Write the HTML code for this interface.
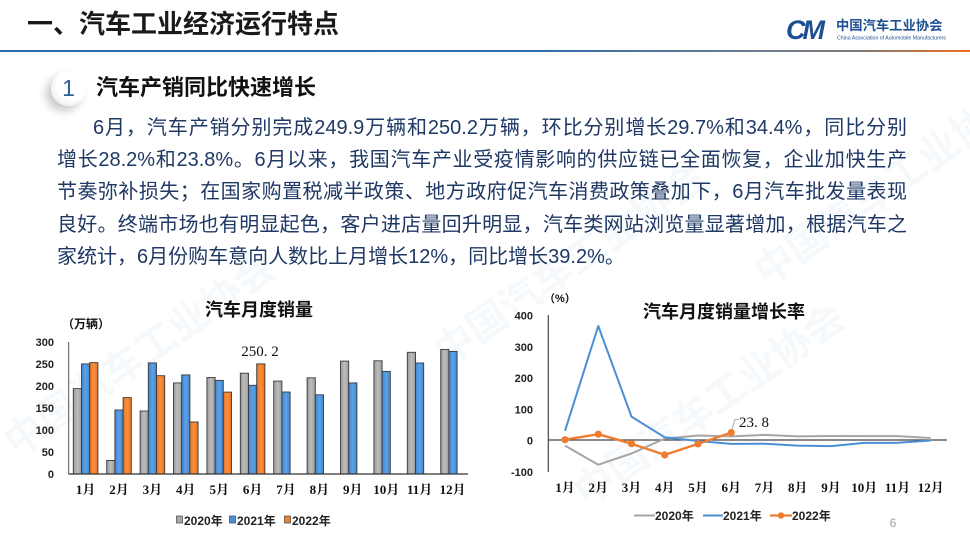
<!DOCTYPE html>
<html><head><meta charset="utf-8">
<style>
html,body{margin:0;padding:0;background:#fff;}
body{width:970px;height:546px;position:relative;overflow:hidden;font-family:"Liberation Sans","Noto Sans CJK SC",sans-serif;}
.abs{position:absolute;white-space:nowrap;}
.title{left:27px;top:8px;font-size:26px;font-weight:bold;color:#1a1a1a;line-height:32px;}
.hline{left:0;top:50px;width:970px;height:2px;background:linear-gradient(to right,#2c6aae 0%,#2f6cad 55%,#6d7c8e 78%,#7a7a7a 88%,#f07020 100%);}
.logo-cm{left:786px;top:14px;font-size:27px;font-weight:bold;font-style:italic;color:#1d4f91;letter-spacing:-3px;line-height:32px;}
.logo-cn{left:836px;top:17px;font-size:13.3px;font-weight:bold;color:#1d4f91;line-height:18px;}
.logo-en{left:837px;top:36px;font-size:10px;color:#1d4f91;transform:scale(0.52);transform-origin:0 0;line-height:10px;}
.circ{left:51px;top:71px;width:35px;height:35px;border-radius:50%;background:radial-gradient(circle at 62% 38%,#ffffff 50%,#ececec 80%,#d8d8d8 100%);box-shadow:-5px 5px 9px rgba(0,0,0,0.22);}
.circ span{position:absolute;left:0;top:0;width:35px;text-align:center;line-height:35px;font-size:23px;color:#2f5f95;}
.sub{left:96px;top:74px;font-size:22px;font-weight:bold;color:#111;line-height:28px;}
.p{font-size:20px;color:#1f3864;line-height:32px;text-align:justify;text-align-last:justify;}
.wm{position:absolute;white-space:nowrap;color:rgba(170,195,225,0.10);font-weight:bold;font-size:40px;transform:rotate(-35deg);transform-origin:0 0;}
</style></head>
<body>
<div class="wm" style="left:420px;top:330px;">中国汽车工业协会</div>
<div class="wm" style="left:560px;top:470px;">中国汽车工业协会</div>
<div class="wm" style="left:-10px;top:420px;">中国汽车工业协会</div>
<div class="wm" style="left:740px;top:250px;">中国汽车工业协会</div>

<div class="abs title">一、汽车工业经济运行特点</div>
<div class="abs hline"></div>
<div class="abs logo-cm">CM</div>
<div class="abs logo-cn">中国汽车工业协会</div>
<div class="abs logo-en">China Association of Automobile Manufacturers</div>

<div class="abs circ"><span>1</span></div>
<div class="abs sub">汽车产销同比快速增长</div>

<div class="abs p" style="left:93px;top:112px;width:814px;">6月，汽车产销分别完成249.9万辆和250.2万辆，环比分别增长29.7%和34.4%，同比分别</div>
<div class="abs p" style="left:57px;top:144px;width:850px;">增长28.2%和23.8%。6月以来，我国汽车产业受疫情影响的供应链已全面恢复，企业加快生产</div>
<div class="abs p" style="left:57px;top:176px;width:850px;">节奏弥补损失；在国家购置税减半政策、地方政府促汽车消费政策叠加下，6月汽车批发量表现</div>
<div class="abs p" style="left:57px;top:209px;width:850px;">良好。终端市场也有明显起色，客户进店量回升明显，汽车类网站浏览量显著增加，根据汽车之</div>
<div class="abs p" style="left:57px;top:241px;text-align:left;text-align-last:left;">家统计，6月份购车意向人数比上月增长12%，同比增长39.2%。</div>

<svg class="abs" style="left:0;top:0;" width="970" height="546" viewBox="0 0 970 546" xmlns="http://www.w3.org/2000/svg">
<defs>
<linearGradient id="gg" x1="0" x2="1" y1="0" y2="0"><stop offset="0" stop-color="#9a9a9a"/><stop offset="0.5" stop-color="#bdbdbd"/><stop offset="1" stop-color="#9c9c9c"/></linearGradient>
<linearGradient id="gb" x1="0" x2="1" y1="0" y2="0"><stop offset="0" stop-color="#3f86d2"/><stop offset="0.5" stop-color="#5da2e6"/><stop offset="1" stop-color="#3f86d2"/></linearGradient>
<linearGradient id="go" x1="0" x2="1" y1="0" y2="0"><stop offset="0" stop-color="#ea7424"/><stop offset="0.5" stop-color="#f98f3c"/><stop offset="1" stop-color="#e87220"/></linearGradient>
</defs>

<!-- LEFT CHART -->
<text x="259" y="316" text-anchor="middle" font-family="Liberation Sans,Noto Sans CJK SC,sans-serif" font-weight="bold" font-size="18" fill="#111">汽车月度销量</text>
<text x="62" y="328" font-family="Liberation Sans,Noto Sans CJK SC,sans-serif" font-weight="bold" font-size="12" fill="#111">（万辆）</text>
<g font-family="Liberation Sans,sans-serif" font-weight="bold" font-size="11" fill="#222" text-anchor="end">
<text x="54" y="346">300</text><text x="54" y="368">250</text><text x="54" y="390">200</text><text x="54" y="412">150</text><text x="54" y="434">100</text><text x="54" y="456">50</text><text x="54" y="478">0</text>
</g>
<g stroke="#3a3a3a" stroke-width="0.9">
<rect x="73.3" y="388.6" width="8.2" height="85.4" fill="url(#gg)"/>
<rect x="106.7" y="460.4" width="8.2" height="13.6" fill="url(#gg)"/>
<rect x="140.1" y="411.0" width="8.2" height="63.0" fill="url(#gg)"/>
<rect x="173.5" y="382.9" width="8.2" height="91.1" fill="url(#gg)"/>
<rect x="206.9" y="377.5" width="8.2" height="96.5" fill="url(#gg)"/>
<rect x="240.3" y="373.2" width="8.2" height="100.8" fill="url(#gg)"/>
<rect x="273.7" y="381.1" width="8.2" height="92.9" fill="url(#gg)"/>
<rect x="307.1" y="377.8" width="8.2" height="96.2" fill="url(#gg)"/>
<rect x="340.5" y="361.1" width="8.2" height="112.9" fill="url(#gg)"/>
<rect x="373.9" y="360.8" width="8.2" height="113.2" fill="url(#gg)"/>
<rect x="407.3" y="352.3" width="8.2" height="121.7" fill="url(#gg)"/>
<rect x="440.7" y="349.4" width="8.2" height="124.6" fill="url(#gg)"/>

<rect x="81.5" y="363.9" width="8.2" height="110.1" fill="url(#gb)"/>
<rect x="114.9" y="410.0" width="8.2" height="64.0" fill="url(#gb)"/>
<rect x="148.3" y="362.9" width="8.2" height="111.1" fill="url(#gb)"/>
<rect x="181.7" y="374.9" width="8.2" height="99.1" fill="url(#gb)"/>
<rect x="215.1" y="380.4" width="8.2" height="93.6" fill="url(#gb)"/>
<rect x="248.5" y="385.3" width="8.2" height="88.7" fill="url(#gb)"/>
<rect x="281.9" y="392.0" width="8.2" height="82.0" fill="url(#gb)"/>
<rect x="315.3" y="394.8" width="8.2" height="79.2" fill="url(#gb)"/>
<rect x="348.7" y="382.9" width="8.2" height="91.1" fill="url(#gb)"/>
<rect x="382.1" y="371.4" width="8.2" height="102.6" fill="url(#gb)"/>
<rect x="415.5" y="363.0" width="8.2" height="111.0" fill="url(#gb)"/>
<rect x="448.9" y="351.4" width="8.2" height="122.6" fill="url(#gb)"/>

<rect x="89.7" y="362.6" width="8.2" height="111.4" fill="url(#go)"/>
<rect x="123.1" y="397.6" width="8.2" height="76.4" fill="url(#go)"/>
<rect x="156.5" y="375.7" width="8.2" height="98.3" fill="url(#go)"/>
<rect x="189.9" y="422.0" width="8.2" height="52.0" fill="url(#go)"/>
<rect x="223.3" y="392.1" width="8.2" height="81.9" fill="url(#go)"/>
<rect x="256.7" y="363.9" width="8.2" height="110.1" fill="url(#go)"/>
</g>
<line x1="68.7" y1="342" x2="68.7" y2="474.5" stroke="#555" stroke-width="1"/>
<line x1="68.7" y1="474" x2="468" y2="474" stroke="#333" stroke-width="1.2"/>
<text x="260" y="356" text-anchor="middle" font-family="Liberation Serif,serif" font-size="15" fill="#111">250. 2</text>
<g font-family="Liberation Serif,Noto Serif CJK SC,serif" font-weight="bold" font-size="13" fill="#111" text-anchor="middle">
<text x="85.6" y="494">1月</text><text x="119" y="494">2月</text><text x="152.4" y="494">3月</text><text x="185.8" y="494">4月</text><text x="219.2" y="494">5月</text><text x="252.6" y="494">6月</text><text x="286" y="494">7月</text><text x="319.4" y="494">8月</text><text x="352.8" y="494">9月</text><text x="386.2" y="494">10月</text><text x="419.6" y="494">11月</text><text x="452.6" y="494">12月</text>
</g>
<g font-family="Liberation Sans,Noto Sans CJK SC,sans-serif" font-weight="bold" font-size="12" fill="#222">
<rect x="176.5" y="516" width="6" height="7" fill="#a8a8a8" stroke="#444" stroke-width="0.7"/><text x="184" y="525">2020年</text>
<rect x="229.5" y="516" width="6" height="7" fill="#4a90d9" stroke="#444" stroke-width="0.7"/><text x="237" y="525">2021年</text>
<rect x="284.5" y="516" width="6" height="7" fill="#f07f2c" stroke="#444" stroke-width="0.7"/><text x="292" y="525">2022年</text>
</g>

<!-- RIGHT CHART -->
<text x="724" y="318" text-anchor="middle" font-family="Liberation Sans,Noto Sans CJK SC,sans-serif" font-weight="bold" font-size="18" fill="#111">汽车月度销量增长率</text>
<text x="544" y="302" font-family="Liberation Sans,Noto Sans CJK SC,sans-serif" font-weight="bold" font-size="11" fill="#111">（%）</text>
<g font-family="Liberation Sans,sans-serif" font-weight="bold" font-size="11" fill="#222" text-anchor="end">
<text x="533" y="319.5">400</text><text x="533" y="350.8">300</text><text x="533" y="382">200</text><text x="533" y="413.3">100</text><text x="533" y="444.5">0</text><text x="533" y="475.8">-100</text>
</g>
<line x1="548.3" y1="315" x2="548.3" y2="472" stroke="#444" stroke-width="1.2"/>
<line x1="548.3" y1="440" x2="947" y2="440" stroke="#444" stroke-width="1.2"/>
<polyline fill="none" stroke="#a6a6a6" stroke-width="2" stroke-linejoin="round" points="565,445.6 598.25,464.7 631.5,453.5 664.75,438.6 698,435.5 731.25,436.4 764.5,434.9 797.75,436.4 831,436 864.25,436.1 897.5,436.1 930.75,438"/>
<polyline fill="none" stroke="#4a8fd6" stroke-width="2" stroke-linejoin="round" points="565,430.8 598.25,326 631.5,416.6 664.75,437.3 698,441 731.25,443.9 764.5,443.7 797.75,445.6 831,446.1 864.25,442.9 897.5,442.8 930.75,440.5"/>
<polyline fill="none" stroke="#ee7d31" stroke-width="2.4" stroke-linejoin="round" points="565,439.7 598.25,434.2 631.5,443.7 664.75,454.9 698,443.9 731.25,432.6"/>
<g fill="#ee7d31">
<circle cx="565" cy="439.7" r="3.6"/><circle cx="598.25" cy="434.2" r="3.6"/><circle cx="631.5" cy="443.7" r="3.6"/><circle cx="664.75" cy="454.9" r="3.6"/><circle cx="698" cy="443.9" r="3.6"/><circle cx="731.25" cy="432.6" r="3.6"/>
</g>
<polyline fill="none" stroke="#a6a6a6" stroke-width="1" points="732,429 735,419.5 739,419.5"/>
<text x="739" y="427" font-family="Liberation Serif,serif" font-size="15" fill="#111">23. 8</text>
<g font-family="Liberation Serif,Noto Serif CJK SC,serif" font-weight="bold" font-size="13" fill="#111" text-anchor="middle">
<text x="565" y="492">1月</text><text x="598.25" y="492">2月</text><text x="631.5" y="492">3月</text><text x="664.75" y="492">4月</text><text x="698" y="492">5月</text><text x="731.25" y="492">6月</text><text x="764.5" y="492">7月</text><text x="797.75" y="492">8月</text><text x="831" y="492">9月</text><text x="864.25" y="492">10月</text><text x="897.5" y="492">11月</text><text x="930.75" y="492">12月</text>
</g>
<g font-family="Liberation Sans,Noto Sans CJK SC,sans-serif" font-weight="bold" font-size="12" fill="#222">
<line x1="634" y1="515.5" x2="655" y2="515.5" stroke="#a6a6a6" stroke-width="2"/><text x="655" y="520">2020年</text>
<line x1="703" y1="515.5" x2="723" y2="515.5" stroke="#4a8fd6" stroke-width="2"/><text x="723" y="520">2021年</text>
<line x1="770" y1="515.5" x2="792" y2="515.5" stroke="#ee7d31" stroke-width="2.2"/><circle cx="781" cy="515.5" r="3.2" fill="#ee7d31"/><text x="792" y="520">2022年</text>
</g>
<text x="893" y="527" text-anchor="middle" font-family="Liberation Sans,sans-serif" font-size="12" fill="#a0a0a0">6</text>
</svg>
</body></html>
